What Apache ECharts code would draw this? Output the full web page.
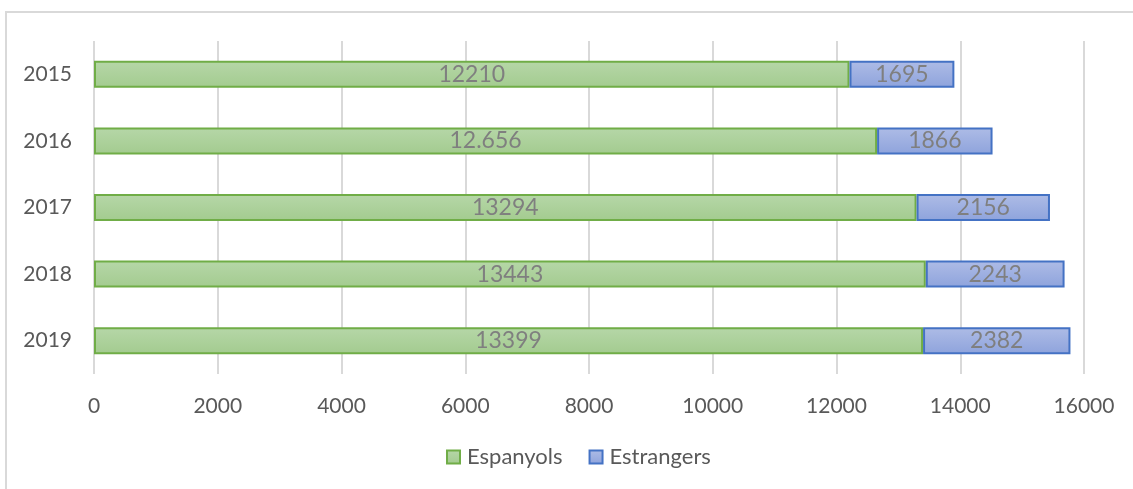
<!DOCTYPE html>
<html>
<head>
<meta charset="utf-8">
<script src="https://cdn.jsdelivr.net/npm/echarts@6/dist/echarts.min.js"></script>
<style>
  html, body { margin: 0; padding: 0; background: #fff; }
  #chart { width: 1133px; height: 489px; }
</style>
</head>
<body>
<div id="chart"></div>
<script>
const years = ["2015", "2016", "2017", "2018", "2019"];
const espanyols = [12210, 12656, 13294, 13443, 13399];
const estrangers = [1695, 1866, 2156, 2243, 2382];
const espanyolsLabels = ["12210", "12.656", "13294", "13443", "13399"];

const chart = echarts.init(document.getElementById("chart"));
const font = "Lato, 'Open Sans', sans-serif";

const options = {
  animation: false,
  textStyle: { fontFamily: font },
  graphic: [
    {
      type: "rect",
      shape: { x: 6, y: 12, width: 1140, height: 490 },
      style: { fill: "none", stroke: "#d9d9d9", lineWidth: 2 },
    },
  ],
  grid: { left: 94, right: 49, top: 41, bottom: 115 },
  legend: {
    bottom: 16,
    left: 441,
    itemWidth: 13,
    itemHeight: 13,
    itemGap: 26,
    icon: "rect",
    textStyle: { color: "#595959", fontSize: 22, fontFamily: font, padding: [0, 0, 0, 2] },
    data: ["Espanyols", "Estrangers"],
  },
  xAxis: {
    type: "value",
    min: 0,
    max: 16000,
    interval: 2000,
    axisLine: { show: false },
    axisTick: { show: false },
    splitLine: { lineStyle: { color: "#d9d9d9", width: 2 } },
    axisLabel: { color: "#595959", fontSize: 21, margin: 22, formatter: (v) => String(v) },
  },
  yAxis: {
    type: "category",
    inverse: true,
    data: years,
    axisLine: { show: false },
    axisTick: { show: false },
    axisLabel: { color: "#595959", fontSize: 21, margin: 22 },
  },
  series: [
    {
      name: "Espanyols",
      type: "bar",
      stack: "total",
      barWidth: 27,
      data: espanyols,
      itemStyle: {
        color: new echarts.graphic.LinearGradient(0, 0, 0, 1, [
          { offset: 0, color: "#b6d7a8" },
          { offset: 1, color: "#a3cb8f" },
        ]),
        borderColor: "#70ad47",
        borderWidth: 2,
      },
      label: {
        show: true,
        position: "inside",
        color: "#7f7f7f",
        fontSize: 23,
        formatter: (p) => espanyolsLabels[p.dataIndex],
      },
    },
    {
      name: "Estrangers",
      type: "bar",
      stack: "total",
      barWidth: 27,
      data: estrangers,
      itemStyle: {
        color: new echarts.graphic.LinearGradient(0, 0, 0, 1, [
          { offset: 0, color: "#aebce6" },
          { offset: 1, color: "#8ea3dc" },
        ]),
        borderColor: "#4472c4",
        borderWidth: 2,
      },
      label: {
        show: true,
        position: "inside",
        color: "#7f7f7f",
        fontSize: 23,
      },
    },
  ],
};

chart.setOption(options);
</script>
</body>
</html>
